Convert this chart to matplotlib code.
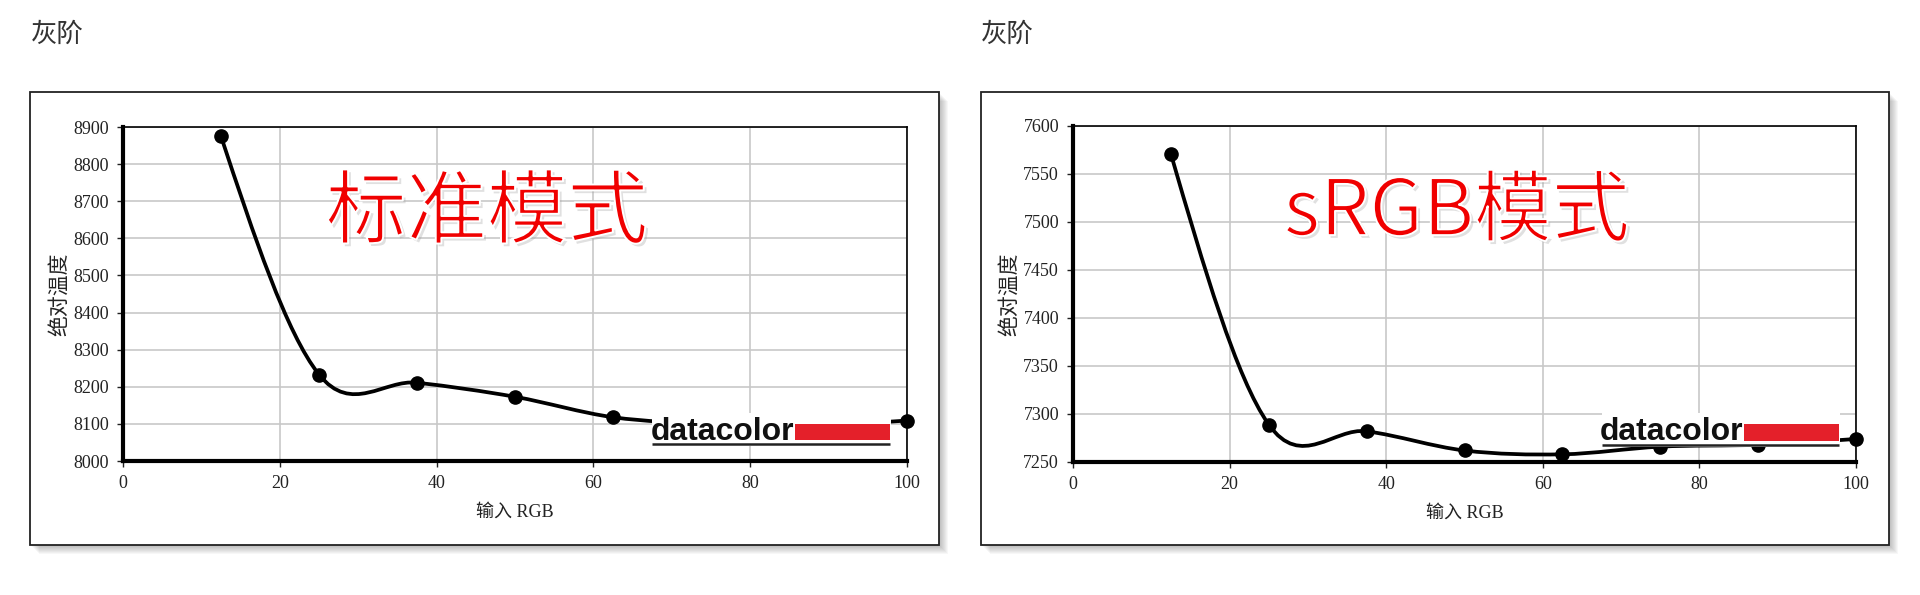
import matplotlib
matplotlib.use("Agg")
import matplotlib.pyplot as plt
import matplotlib.patheffects as pe
import numpy as np
from matplotlib.patches import PathPatch, Rectangle
from matplotlib.path import Path

W, H = 1920, 595

RGB_INPUT = [12.5, 25, 37.5, 50, 62.5, 75, 87.5, 100]
TEMP_STANDARD = [8875, 8233, 8211, 8173, 8118, 8100, 8096, 8109]
TEMP_SRGB = [7571, 7289, 7282, 7262, 7258, 7266, 7268, 7274]
X_TICKS = [0, 20, 40, 60, 80, 100]
Y_TICKS_STANDARD = list(range(8000, 8901, 100))
Y_TICKS_SRGB = list(range(7250, 7601, 50))
SECTION_TITLE = "灰阶"
MODE_LABELS = ["标准模式", "sRGB模式"]
X_LABEL = "输入 RGB"
Y_LABEL = "绝对温度"
LOGO_TEXT = "datacolor"

CJK = ["Noto Sans CJK SC", "DejaVu Sans"]
SERIF_CJK = ["Liberation Serif", "Noto Sans CJK SC"]

# pixel boxes (left, top, right, bottom)
PANELS = [
    {"frame": (30, 92, 939, 545), "ax": (123, 127, 907, 461), "title_x": 31,
     "y": TEMP_STANDARD, "yticks": Y_TICKS_STANDARD, "label": MODE_LABELS[0],
     "label_x": 0.464, "label_size": 58},
    {"frame": (981, 92, 1889, 545), "ax": (1073, 126, 1856, 462), "title_x": 981,
     "y": TEMP_SRGB, "yticks": Y_TICKS_SRGB, "label": MODE_LABELS[1],
     "label_x": 0.49, "label_size": 56},
]


def smooth_path(x, y):
    # cubic bezier through the points (catmull-rom tangents)
    x = np.asarray(x, float)
    y = np.asarray(y, float)
    n = len(x)
    m = np.zeros(n)
    m[1:-1] = (y[2:] - y[:-2]) / 2
    m[0] = (3 * (y[1] - y[0]) - m[1]) / 2
    m[-1] = (3 * (y[-1] - y[-2]) - m[-2]) / 2
    verts = [(x[0], y[0])]
    codes = [Path.MOVETO]
    for i in range(n - 1):
        dx = x[i + 1] - x[i]
        verts += [(x[i] + dx / 3, y[i] + m[i] / 3),
                  (x[i + 1] - dx / 3, y[i + 1] - m[i + 1] / 3),
                  (x[i + 1], y[i + 1])]
        codes += [Path.CURVE4] * 3
    return Path(verts, codes)


def draw_logo(ax):
    t = ax.transAxes
    ax.add_patch(Rectangle((0.675, 0.045), 0.305, 0.1, transform=t,
                           facecolor="white", edgecolor="none", zorder=5))
    ax.add_patch(Rectangle((0.857, 0.062), 0.121, 0.05, transform=t,
                           facecolor="#e4202a", edgecolor="none", zorder=6))
    ax.plot([0.675, 0.978], [0.052, 0.052], transform=t, color="#222",
            lw=1.8, solid_capstyle="butt", zorder=6)
    ax.text(0.673, 0.064, LOGO_TEXT, transform=t, fontsize=23, fontweight="bold",
            family="Liberation Sans", color="#111", ha="left", va="baseline", zorder=7)


fig = plt.figure(figsize=(W / 100, H / 100), dpi=100)
fig.patch.set_facecolor("white")

bg = fig.add_axes([0, 0, 1, 1], zorder=0)
bg.set_xlim(0, W)
bg.set_ylim(H, 0)
bg.axis("off")

for p in PANELS:
    fx0, fy0, fx1, fy1 = p["frame"]
    for i in range(1, 10):
        bg.add_patch(Rectangle((fx0 + i, fy0 + i), fx1 - fx0, fy1 - fy0,
                               facecolor="black", edgecolor="none", alpha=0.03))
    bg.add_patch(Rectangle((fx0, fy0), fx1 - fx0, fy1 - fy0,
                           facecolor="white", edgecolor="#222", lw=1.3))
    bg.text(p["title_x"], 21, SECTION_TITLE, fontsize=19, family=CJK,
            color="#333", ha="left", va="top")

    ax0, ay0, ax1, ay1 = p["ax"]
    ax = fig.add_axes([ax0 / W, 1 - ay1 / H, (ax1 - ax0) / W, (ay1 - ay0) / H], zorder=1)
    ax.set_facecolor("white")
    yt = p["yticks"]
    ax.set_xlim(0, 100)
    ax.set_ylim(yt[0], yt[-1])
    ax.set_xticks(X_TICKS)
    ax.set_yticks(yt)
    ax.grid(True, color="#c8c8c8", lw=1.2)
    ax.set_axisbelow(True)
    for side in ["left", "bottom"]:
        ax.spines[side].set_linewidth(3)
    for side in ["top", "right"]:
        ax.spines[side].set_linewidth(1.2)
    for s in ax.spines.values():
        s.set_color("black")
        s.set_zorder(8)
    ax.tick_params(direction="out", length=4, width=1, colors="#222", labelsize=13, pad=6)
    for lab in ax.get_xticklabels() + ax.get_yticklabels():
        lab.set_family("Liberation Serif")

    ax.add_patch(PathPatch(smooth_path(RGB_INPUT, p["y"]), fill=False, edgecolor="black",
                           lw=2.7, capstyle="round", zorder=3))
    ax.plot(RGB_INPUT, p["y"], "o", color="black", ms=9.5, zorder=4, clip_on=False)

    draw_logo(ax)

    # white outline thins the heavy glyphs a little
    ax.text(p["label_x"], 0.74, p["label"], transform=ax.transAxes, fontsize=p["label_size"],
            family=CJK, color="#f00000", ha="center", va="center", zorder=9,
            path_effects=[pe.withSimplePatchShadow(offset=(2, -2), shadow_rgbFace="#999", alpha=0.3),
                          pe.Normal(),
                          pe.Stroke(linewidth=1.4, foreground="white")])

    ax.set_xlabel(X_LABEL, family=SERIF_CJK, fontsize=13, color="#222", va="center")
    ax.xaxis.set_label_coords(0.5, -0.153)
    ax.set_ylabel(Y_LABEL, family=SERIF_CJK, fontsize=15, color="#222", va="center")
    ax.yaxis.set_label_coords(-0.08, 0.5)

fig.savefig("out.png", dpi=100, facecolor="white")
